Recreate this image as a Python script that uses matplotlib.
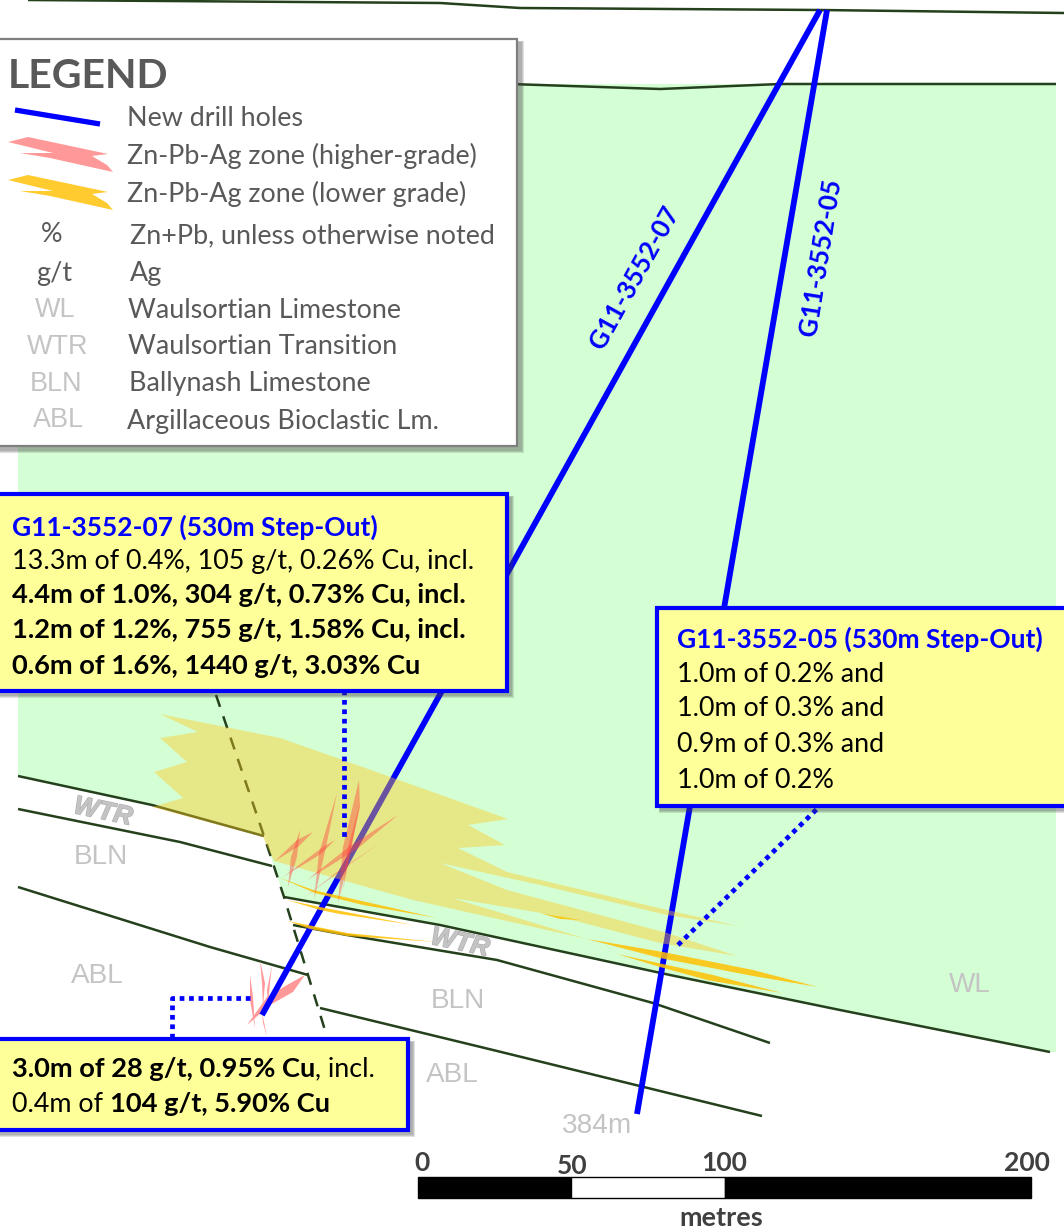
import matplotlib
matplotlib.use('Agg')
import matplotlib.pyplot as plt
import matplotlib.patheffects as pe
from matplotlib.patches import Polygon, Rectangle

plt.rcParams['font.family'] = ['Lato', 'DejaVu Sans']

surface_top = [(28, 0), (440, 3), (520, 8), (820, 10), (1064, 13)]
surface_low = [(510, 84), (660, 89), (780, 84), (1056, 84)]
wtr_top_left = [(18, 776), (152, 805), (264, 836)]
wtr_base_left = [(18, 809), (180, 842), (272, 866)]
abl_top_left = [(18, 887), (210, 947), (308, 975)]
wl_base_right = [(284, 897), (440, 925), (670, 975), (840, 1010), (1050, 1052)]
wtr_base_right = [(293, 925), (347, 935), (497, 960), (653, 1003), (770, 1043)]
abl_top_right = [(320, 1008), (493, 1050), (762, 1116)]
fault = [(216, 695), (264, 836), (284, 897), (308, 975), (328, 1040)]
green_area = [(18, 84), (1056, 84), (1056, 1052), (1050, 1052), (840, 1010), (670, 975),
              (440, 925), (284, 897), (264, 836), (152, 805), (18, 776)]

hole_07 = [(820, 10), (262, 1015)]
hole_05 = [(827, 10), (637, 1114)]

yellow_zone = [(160, 714), (280, 738), (357, 765), (508, 819), (468, 825), (505, 845), (458, 848),
               (507, 872), (667, 910), (738, 926), (667, 915), (540, 885), (440, 863), (507, 890),
               (667, 933), (737, 956), (660, 943), (553, 915), (452, 898), (587, 939), (413, 900),
               (274, 861), (263, 837), (152, 807), (183, 798), (154, 772), (187, 762), (160, 738),
               (198, 732)]

orange_zones = [
    [(587, 939), (663, 952), (753, 970), (818, 987), (753, 976), (660, 958)],
    [(617, 954), (713, 975), (782, 993), (707, 980), (660, 967)],
    [(540, 913), (580, 920), (560, 919)],
    [(278, 877), (313, 890), (437, 918), (363, 905), (315, 893)],
    [(287, 900), (320, 907), (413, 925), (340, 914), (320, 910)],
    [(288, 921), (347, 933), (437, 942), (347, 936), (310, 929)],
]

red_zones = [
    [(275, 861), (297, 840), (313, 832), (299, 846)],
    [(300, 830), (297, 857), (288, 887), (291, 857)],
    [(283, 877), (323, 847), (335, 840), (321, 854)],
    [(337, 793), (326, 847), (314, 900), (319, 853)],
    [(307, 880), (350, 846), (398, 815), (357, 849)],
    [(359, 780), (343, 847), (338, 903), (347, 867), (360, 807)],
    [(301, 900), (337, 872), (380, 843), (343, 869)],
    [(360, 803), (348, 847), (343, 890)],
]

pink_zones = [
    [(260, 960), (265, 983), (263, 1007), (262, 983)],
    [(272, 965), (267, 990), (268, 1003), (270, 983)],
    [(250, 975), (253, 997), (255, 1028), (250, 1000)],
    [(305, 975), (293, 992), (270, 1005), (247, 1025), (267, 997), (287, 985)],
    [(262, 1012), (267, 1037), (263, 1023)],
]

legend_blue = [(15, 110), (100, 124)]
legend_zone = [(8, 142), (28, 137), (108, 154), (92, 156), (107, 165), (113, 172), (50, 158),
               (20, 153), (53, 153)]

legend_marks = ['%', 'g/t', 'WL', 'WTR', 'BLN', 'ABL']
legend_names = ['New drill holes', 'Zn-Pb-Ag zone (higher-grade)', 'Zn-Pb-Ag zone (lower grade)',
                'Zn+Pb, unless otherwise noted', 'Ag', 'Waulsortian Limestone',
                'Waulsortian Transition', 'Ballynash Limestone', 'Argillaceous Bioclastic Lm.']

box_07_lines = [[('G11-3552-07 (530m Step-Out)', 'bold', '#0000ff')],
                [('13.3m of 0.4%, 105 g/t, 0.26% Cu, incl.', 'normal', 'black')],
                [('4.4m of 1.0%, 304 g/t, 0.73% Cu, incl.', 'bold', 'black')],
                [('1.2m of 1.2%, 755 g/t, 1.58% Cu, incl.', 'bold', 'black')],
                [('0.6m of 1.6%, 1440 g/t, 3.03% Cu', 'bold', 'black')]]
box_05_lines = [[('G11-3552-05 (530m Step-Out)', 'bold', '#0000ff')],
                [('1.0m of 0.2% and', 'normal', 'black')],
                [('1.0m of 0.3% and', 'normal', 'black')],
                [('0.9m of 0.3% and', 'normal', 'black')],
                [('1.0m of 0.2%', 'normal', 'black')]]
box_low_lines = [[('3.0m of 28 g/t, 0.95% Cu', 'bold', 'black'), (', incl.', 'normal', 'black')],
                 [('0.4m of ', 'normal', 'black'), ('104 g/t, 5.90% Cu', 'bold', 'black')]]

scale_metres = [0, 50, 100, 200]
scale_colors = ['black', 'white', 'black']

GREEN = '#d4ffd4'
LINE = '#24401c'
BLUE = '#0000ff'
GREY = '#c4c4c4'
DARK = '#595959'

fig = plt.figure(figsize=(10.64, 12.29), dpi=100)
ax = fig.add_axes([0, 0, 1, 1])
ax.set_xlim(0, 1064)
ax.set_ylim(1229, 0)
ax.axis('off')


def px(size):
    return size * 0.72


def draw_path(points, **kwargs):
    ax.plot([p[0] for p in points], [p[1] for p in points], **kwargs)


def shadow_box(x, y, w, h, edge, face, lw, zorder):
    # soft drop shadow made of a few stacked see-through rectangles
    for grow in (5, 3.5, 2):
        ax.add_patch(Rectangle((x + 4 - grow / 2, y + 4 - grow / 2), w + grow, h + grow, fc='#404040',
                               ec='none', alpha=0.16, zorder=zorder))
    ax.add_patch(Rectangle((x, y), w, h, fc=face, ec=edge, lw=lw, zorder=zorder + 0.1))


def mixed_line(x, y, parts, zorder):
    renderer = fig.canvas.get_renderer()
    for string, weight, color in parts:
        # calibri-like widths: blue headings run a bit narrower than the bold black lines
        size = 26.4 if color != 'black' else (27.2 if weight == 'bold' else 26.9)
        t = ax.text(x, y, string, fontsize=px(size), fontweight=weight, color=color, va='center',
                    ha='left', zorder=zorder)
        x = t.get_window_extent(renderer).x1


# ground and contacts
ax.add_patch(Polygon(green_area, closed=True, fc=GREEN, ec='none', zorder=1))
for contact in [surface_top, surface_low, wtr_top_left, wtr_base_left, abl_top_left, wl_base_right,
                wtr_base_right, abl_top_right]:
    draw_path(contact, color=LINE, lw=1.8, zorder=2, solid_capstyle='butt')
draw_path(fault, color=LINE, lw=1.8, ls=(0, (5, 4)), zorder=2)

draw_path(hole_07, color=BLUE, lw=4.2, zorder=3, solid_capstyle='butt')
draw_path(hole_05, color=BLUE, lw=4.2, zorder=3, solid_capstyle='butt')

# mineralised zones sit over the holes
ax.add_patch(Polygon(yellow_zone, closed=True, fc='#ffc81e', ec='none', alpha=0.42, zorder=4))
for zone in orange_zones:
    ax.add_patch(Polygon(zone, closed=True, fc='#ffc000', ec='none', alpha=0.85, zorder=4.2))
for zone in red_zones:
    ax.add_patch(Polygon(zone, closed=True, fc='#ff4040', ec='none', alpha=0.42, zorder=4.4))
for zone in pink_zones:
    ax.add_patch(Polygon(zone, closed=True, fc='#ff9999', ec='none', zorder=2.5))

# grey rock labels
for x, y, label in [(970, 985, 'WL'), (97, 976, 'ABL'), (101, 857, 'BLN'), (458, 1001, 'BLN'),
                    (452, 1075, 'ABL'), (597, 1126, '384m')]:
    ax.text(x, y, label, color=GREY, fontsize=px(28), family='Liberation Sans', ha='center',
            va='center', zorder=5)
for x, y in [(103, 812), (460, 943)]:
    ax.text(x, y, 'WTR', color=GREY, fontsize=px(26), family='Liberation Sans', fontweight='bold',
            style='italic', rotation=-12, ha='center', va='center', rotation_mode='anchor', zorder=5,
            path_effects=[pe.withStroke(linewidth=1.0, foreground='#b0b0b0')])

ax.text(635, 278, 'G11-3552-07', color=BLUE, fontsize=px(26), fontweight='bold', rotation=61,
        ha='center', va='center', rotation_mode='anchor', zorder=5)
ax.text(821, 257, 'G11-3552-05', color=BLUE, fontsize=px(26), fontweight='bold', rotation=81,
        ha='center', va='center', rotation_mode='anchor', zorder=5)

# dotted leaders
for leader in [[(344, 690), (344, 838)], [(678, 945), (820, 806)], [(250, 998), (172, 998), (172, 1039)]]:
    draw_path(leader, color=BLUE, lw=3.4, ls=(0, (1, 1)), zorder=6)

# callouts
shadow_box(-4, 494, 511, 197, BLUE, '#ffff99', 3, 7)
for y, parts in zip([527, 562, 595, 630, 666], box_07_lines):
    mixed_line(12, y, parts, 8)
shadow_box(657, 608, 420, 198, BLUE, '#ffff99', 3, 7)
for y, parts in zip([639, 674, 709, 744, 780], box_05_lines):
    mixed_line(677, y, parts, 8)
shadow_box(-4, 1039, 412, 91, BLUE, '#ffff99', 3, 7)
for y, parts in zip([1069, 1104], box_low_lines):
    mixed_line(12, y, parts, 8)

# legend
shadow_box(-4, 39, 521, 407, '#7f7f7f', 'white', 1.6, 9)
ax.text(8, 77, 'LEGEND', color=DARK, fontsize=px(41), fontweight='bold', va='center', zorder=10)
draw_path(legend_blue, color=BLUE, lw=3.8, zorder=10, solid_capstyle='butt')
ax.add_patch(Polygon(legend_zone, closed=True, fc='#ff9999', ec='none', zorder=10))
ax.add_patch(Polygon([(p[0], p[1] + 38) for p in legend_zone], closed=True, fc='#ffcb2e', ec='none', zorder=10))
for x, y, label in zip([127, 127, 127, 130, 130, 128, 128, 129, 127],
                       [119, 156, 194, 236, 273, 311, 347, 384, 421], legend_names):
    ax.text(x, y, label, color=DARK, fontsize=px(26.9), va='center', zorder=10)
for (x, y, color), label in zip([(52, 235, DARK), (54, 273, DARK), (55, 310, GREY), (58, 347, GREY),
                                 (56, 384, GREY), (58, 420, GREY)], legend_marks):
    ax.text(x, y, label, color=color, fontsize=px(27), ha='center', va='center', zorder=10,
            family='Liberation Sans' if color == GREY else None)

# scale bar
sx = 3.065
for left, right, color in zip(scale_metres[:-1], scale_metres[1:], scale_colors):
    ax.add_patch(Rectangle((418 + left * sx, 1177), (right - left) * sx, 21, fc=color, ec='black', lw=1, zorder=5))
for value, x, y in zip(scale_metres, [422, 572, 724, 1027], [1163, 1166, 1163, 1163]):
    ax.text(x, y, str(value), color='#404040', fontsize=px(26.5), fontweight='bold', ha='center',
            va='center', zorder=5)
ax.text(721, 1218, 'metres', color='#404040', fontsize=px(27), fontweight='bold', ha='center', va='center', zorder=5)

fig.savefig('out.png', dpi=100)
